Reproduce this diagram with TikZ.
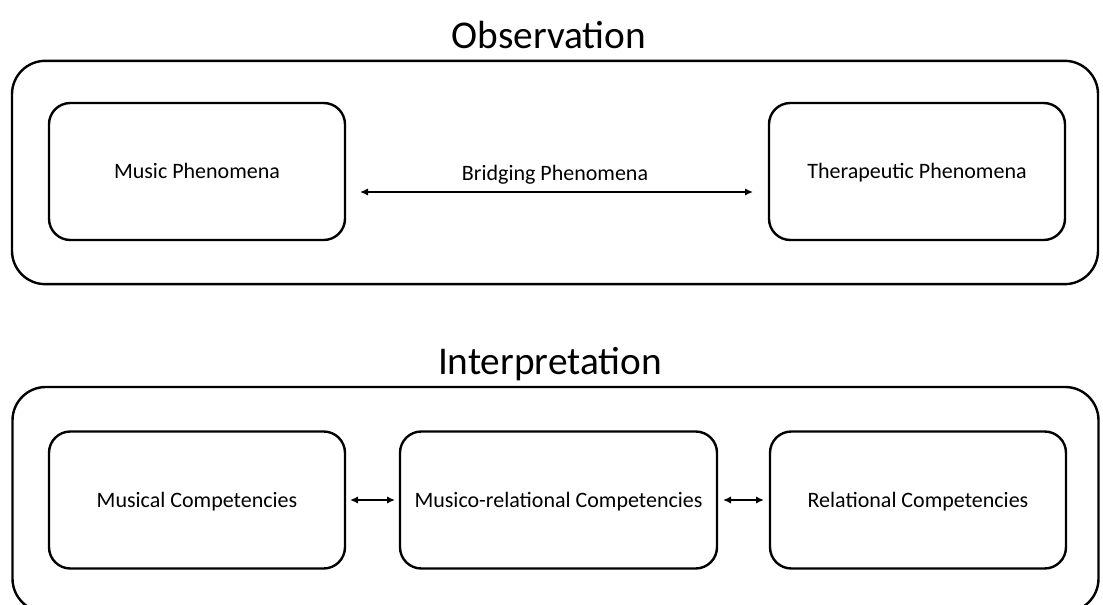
\documentclass[tikz,border=0pt]{standalone}
\usepackage{fontspec}
\setmainfont{Carlito}
\usetikzlibrary{arrows.meta,calc}
\begin{document}
\begin{tikzpicture}[x=0.75pt,y=-0.75pt,
  outerbox/.style={draw,line width=1.8pt,rounded corners=25pt,minimum width=814.5pt,minimum height=167.5pt,inner sep=0pt,outer sep=0pt},
  innerbox/.style={draw,line width=1.8pt,rounded corners=16pt,minimum height=102.75pt,inner sep=0pt,outer sep=0pt,text height=12pt,text depth=1.4pt,font=\fontsize{16.5pt}{19pt}\selectfont},
  title/.style={font=\fontsize{29.5pt}{34pt}\selectfont,inner sep=0pt,text height=22pt,text depth=3pt},
  lbl/.style={font=\fontsize{16.5pt}{19pt}\selectfont,inner sep=0pt,text height=12pt,text depth=1.4pt},
  dblarrow/.style={line width=1.6pt,{Latex[length=6pt,width=5.5pt]}-{Latex[length=6pt,width=5.5pt]}}]
\useasboundingbox (0,0) rectangle (1103,605);
\node[title] (obs) at (549,36) {Observation};
\node[outerbox] (obox) at (555,172.5) {};
\node[innerbox,minimum width=222pt] (mp) at (197,171.5) {Music Phenomena};
\node[innerbox,minimum width=222pt] (tp) at (917,171.5) {Therapeutic Phenomena};
\node[lbl] (bp) at (555,173) {Bridging Phenomena};
\draw[dblarrow] ($(mp.east)+(15,20.5)$) -- ($(tp.west)+(-16,20.5)$);
\node[title] (int) at (550,362) {Interpretation};
\node[outerbox,minimum height=168.75pt] (ibox) at (555.5,499.5) {};
\node[innerbox,minimum width=222pt] (mc) at (197,500) {Musical Competencies};
\node[innerbox,minimum width=237.75pt] (mrc) at (558.5,500) {Musico-relational Competencies};
\node[innerbox,minimum width=222pt] (rc) at (918,500) {Relational Competencies};
\draw[dblarrow,shorten <=3.75pt,shorten >=3.75pt] (mc.east) -- (mrc.west);
\draw[dblarrow,shorten <=4.5pt,shorten >=4.5pt] (mrc.east) -- (rc.west);
\end{tikzpicture}
\end{document}
